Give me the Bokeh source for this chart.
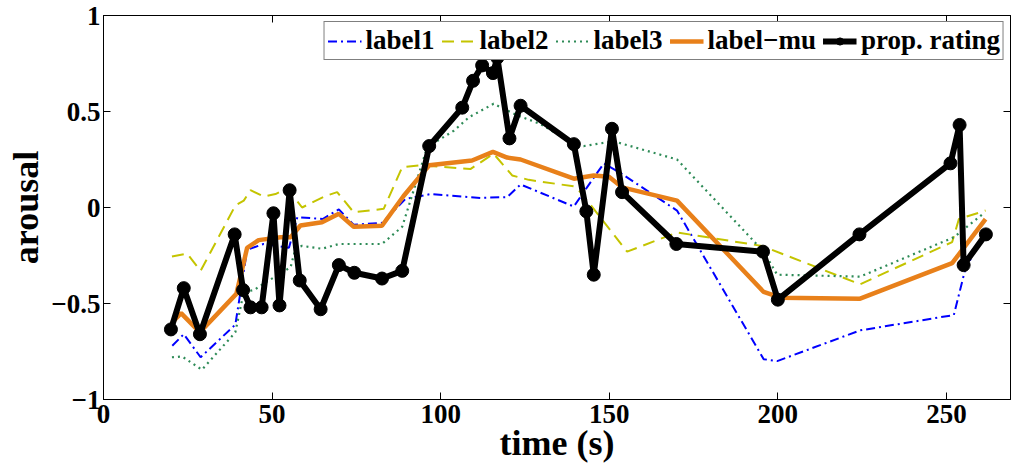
from bokeh.plotting import figure
from bokeh.models import (LinearAxis, FixedTicker, CustomJSTickFormatter, Range1d,
                          Legend, LegendItem)
from bokeh.embed import file_html
from bokeh.resources import INLINE

# ---- data ----
label1_x = [20.4, 23.8, 28.8, 39.1, 42.6, 47.5, 55, 57.5, 65, 69.8, 74.2, 82.6, 89.6, 97,
            111.8, 119.7, 123.7, 139.5, 143.4, 148.4, 153.3, 170.1, 195.8, 199.8, 224.4,
            252.2, 255.6, 261.1]
label1_y = [-0.72, -0.66, -0.78, -0.61, -0.22, -0.19, -0.21, -0.05, -0.06, -0.01, -0.09,
            -0.08, 0.045, 0.07, 0.05, 0.054, 0.12, 0.005, 0.105, 0.23, 0.18, -0.016, -0.79,
            -0.80, -0.64, -0.56, -0.32, -0.14]

label2_x = [20.3, 24.8, 28.8, 39.1, 41.6, 43.6, 47.5, 51, 54.5, 58.9, 65.8, 69.3, 74.2,
            83.1, 88.6, 94, 108.8, 115.7, 121.2, 126.1, 139.5, 141.5, 155.3, 170.1, 195.3,
            224.4, 251.7, 253.7, 261.6]
label2_y = [-0.255, -0.24, -0.33, 0.01, 0.036, 0.09, 0.057, 0.07, 0.10, 0.0, 0.06, 0.08,
            -0.025, -0.007, 0.21, 0.22, 0.20, 0.28, 0.167, 0.144, 0.11, 0.08, -0.23, -0.13,
            -0.2, -0.40, -0.18, -0.06, -0.016]

label3_x = [20.3, 23.3, 29.2, 39.1, 41.6, 44.6, 49, 52.5, 55.5, 57, 58.9, 64.8, 69.8, 82.6,
            88.6, 96, 103.9, 108.4, 115.7, 122.7, 129.6, 139.5, 142.4, 151.3, 170.1, 195.8,
            199.8, 224.4, 252.2, 261.1]
label3_y = [-0.78, -0.776, -0.845, -0.65, -0.44, -0.43, -0.38, -0.345, -0.31, -0.21, -0.2,
            -0.215, -0.19, -0.19, -0.10, 0.314, 0.40, 0.47, 0.54, 0.48, 0.435, 0.33, 0.32,
            0.345, 0.25, -0.23, -0.35, -0.36, -0.155, -0.03]

mu_x = [20.3, 23.0, 28.6, 39.4, 42.6, 46, 52.5, 55.5, 58.4, 64.8, 69.8, 74.2, 82.6, 89,
        96.6, 109.3, 115.5, 119.7, 123.7, 139.5, 145.4, 149.9, 153.8, 170.1, 195.8, 200.8,
        224.4, 251.7, 261.6]
mu_y = [-0.60, -0.55, -0.65, -0.45, -0.21, -0.17, -0.155, -0.155, -0.094, -0.077, -0.033,
        -0.10, -0.095, 0.06, 0.22, 0.245, 0.29, 0.26, 0.25, 0.15, 0.167, 0.16, 0.105, 0.036,
        -0.44, -0.47, -0.475, -0.29, -0.06]

rating_x = [20, 23.8, 28.6, 38.9, 41.4, 43.6, 46.9, 50.4, 52.2, 55.2, 58.2, 64.4, 69.8,
            74.4, 82.6, 88.6, 96.6, 106.4, 109.6, 112.3, 115.5, 116.8, 120.4, 123.7, 139.5,
            143.2, 145.4, 150.8, 153.8, 169.9, 195.6, 200, 224.2, 251.2, 253.9, 255.1, 261.7]
rating_y = [-0.635, -0.42, -0.66, -0.14, -0.43, -0.52, -0.52, -0.03, -0.51, 0.09, -0.38,
            -0.53, -0.30, -0.34, -0.37, -0.33, 0.32, 0.52, 0.66, 0.74, 0.70, 0.78, 0.36,
            0.53, 0.33, -0.02, -0.35, 0.41, 0.08, -0.19, -0.23, -0.48, -0.14, 0.23, 0.43,
            -0.30, -0.14]

x_ticks = [0, 50, 100, 150, 200, 250]
y_ticks = [-1, -0.5, 0, 0.5, 1]

FONT = "'Liberation Serif'"

p = figure(width=1011, height=470, output_backend="svg", toolbar_location=None,
           x_range=Range1d(0, 269), y_range=Range1d(-1, 1),
           min_border_left=103, min_border_right=1, min_border_top=15, min_border_bottom=71,
           x_axis_label="time (s)", y_axis_label="arousal")
p.xgrid.visible = False
p.ygrid.visible = False
p.outline_line_color = "black"
p.outline_line_width = 1

minus_fmt = CustomJSTickFormatter(code="return tick < 0 ? '\\u2212' + Math.abs(tick) : String(tick);")
empty_fmt = CustomJSTickFormatter(code="return '';")

def style(ax, ticks, fmt, labels=True):
    ax.ticker = FixedTicker(ticks=ticks)
    ax.formatter = fmt
    ax.major_tick_in = 7
    ax.major_tick_out = 0
    ax.minor_tick_line_color = None
    ax.axis_line_color = "black"
    ax.major_tick_line_color = "black"
    ax.major_label_text_font = FONT
    ax.major_label_text_font_style = "bold"
    ax.major_label_text_font_size = "27px"
    ax.major_label_text_color = "black"
    ax.axis_label_text_font = FONT
    ax.axis_label_text_font_style = "bold"
    ax.axis_label_text_font_size = "36px"
    ax.axis_label_text_color = "black"
    if not labels:
        ax.major_label_standoff = 0

style(p.xaxis[0], x_ticks, minus_fmt)
style(p.yaxis[0], y_ticks, minus_fmt)
p.xaxis[0].major_label_standoff = 5
p.xaxis[0].axis_label_standoff = -3
p.yaxis[0].major_label_standoff = 3
p.yaxis[0].axis_label_standoff = 2

top_ax = LinearAxis()
style(top_ax, x_ticks, empty_fmt, labels=False)
p.add_layout(top_ax, "above")
right_ax = LinearAxis()
style(right_ax, y_ticks, empty_fmt, labels=False)
p.add_layout(right_ax, "right")

r1 = p.line(label1_x, label1_y, line_color="#0000FF", line_width=2, line_dash="9 4 2 4")
r2 = p.line(label2_x, label2_y, line_color="#C4C400", line_width=2, line_dash="12 7")
r3 = p.line(label3_x, label3_y, line_color="#2E8B57", line_width=2.2, line_dash="2 4")
r4 = p.line(mu_x, mu_y, line_color="#E8801A", line_width=4.5)
r5 = p.line(rating_x, rating_y, line_color="black", line_width=6)
r6 = p.scatter(rating_x, rating_y, marker="circle", size=13, fill_color="black",
               line_color="black")

legend = Legend(items=[
    LegendItem(label="label1", renderers=[r1]),
    LegendItem(label="label2", renderers=[r2]),
    LegendItem(label="label3", renderers=[r3]),
    LegendItem(label="label\u2212mu", renderers=[r4]),
    LegendItem(label="prop. rating", renderers=[r5, r6]),
], orientation="horizontal", location="top_right")
legend.label_text_font = FONT
legend.label_text_font_style = "bold"
legend.label_text_font_size = "27px"
legend.label_text_color = "black"
legend.label_height = 18
legend.glyph_width = 34
legend.glyph_height = 18
legend.label_standoff = 4
legend.spacing = 7
legend.padding = 3
legend.margin = 6
legend.border_line_color = "black"
legend.border_line_width = 1
legend.background_fill_alpha = 1
p.add_layout(legend)

open("out.html", "w").write(file_html(p, INLINE))
